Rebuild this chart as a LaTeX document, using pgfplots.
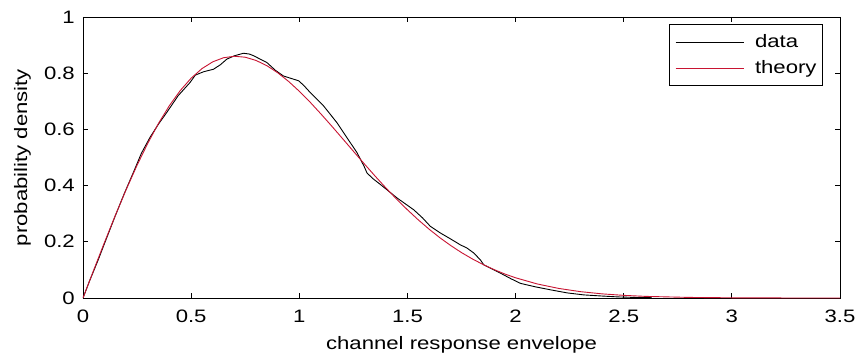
\documentclass[border=0pt]{standalone}
\usepackage{fontspec}
\setmainfont{Liberation Sans}[FakeStretch=1.23]
\usepackage{pgfplots}
\pgfplotsset{compat=1.18}
\definecolor{theoryred}{RGB}{200,20,50}
\begin{document}
\fontsize{18bp}{21bp}\selectfont
\begin{tikzpicture}
\begin{axis}[
  at={(0,0)}, anchor=south west,
  scale only axis,
  width=757bp, height=281bp,
  xmin=0, xmax=3.5, ymin=0, ymax=1,
  xtick={0,0.5,...,3.5},
  ytick={0,0.2,...,1},
  xticklabels={0,0.5,1,1.5,2,2.5,3,3.5},
  yticklabels={0,0.2,0.4,0.6,0.8,1},
  tick align=inside,
  major tick length=5bp,
  axis line style={line width=0.9bp},
  every tick/.style={black, line width=0.8bp},
  tick label style={font=\fontsize{18bp}{21bp}\selectfont},
  xticklabel style={yshift=-6bp},
  yticklabel style={xshift=-2bp},
  xlabel={channel response envelope},
  ylabel={probability density},
  label style={font=\fontsize{18bp}{21bp}\selectfont},
  xlabel style={yshift=-1bp},
  ylabel style={yshift=1bp},
  legend style={at={(1,1)}, anchor=north east, xshift=-17bp, yshift=-7bp,
    draw=black, line width=0.9bp, font=\fontsize{18bp}{21bp}\selectfont,
    inner xsep=6bp, inner ysep=8bp, row sep=6bp, column sep=11bp,
    nodes={inner xsep=0bp, inner ysep=2bp}},
  legend cell align=left,
  legend image code/.code={\draw[#1, line width=0.9bp] (-20bp,0bp) -- (48bp,0bp);},
]
\addplot[black, line width=0.9bp] coordinates {
(0,0) (0.03,0.06) (0.07,0.135) (0.1,0.195) (0.148,0.29) (0.19,0.37) (0.233,0.447)
(0.27,0.515) (0.31,0.572) (0.35,0.62) (0.387,0.66) (0.44,0.72) (0.495,0.767)
(0.519,0.793) (0.557,0.805) (0.603,0.814) (0.635,0.83) (0.665,0.85) (0.70,0.862)
(0.742,0.871) (0.77,0.868) (0.789,0.862) (0.85,0.838) (0.89,0.81) (0.927,0.79)
(0.96,0.782) (0.997,0.773) (1.02,0.757) (1.051,0.731) (1.113,0.683) (1.174,0.624)
(1.221,0.570) (1.267,0.517) (1.30,0.468) (1.313,0.445) (1.34,0.425) (1.375,0.404)
(1.452,0.356) (1.529,0.314) (1.57,0.285) (1.606,0.255) (1.653,0.231) (1.70,0.21)
(1.745,0.189) (1.775,0.178) (1.807,0.160) (1.838,0.135) (1.853,0.118) (1.90,0.10)
(1.931,0.088) (1.98,0.068) (2.023,0.052) (2.09,0.04) (2.162,0.029) (2.24,0.018)
(2.316,0.011) (2.40,0.007) (2.47,0.004) (2.55,0.002) (2.63,0.001)
};
\addlegendentry{data}
\addplot[theoryred, line width=0.9bp] coordinates {
(0,0) (0.05,0.1004) (0.1,0.1992) (0.15,0.2950) (0.2,0.3866) (0.25,0.4724)
(0.3,0.5513) (0.35,0.6226) (0.4,0.6852) (0.45,0.7386) (0.5,0.7823) (0.55,0.8163)
(0.6,0.8405) (0.65,0.8551) (0.7,0.8603) (0.75,0.8569) (0.8,0.8454) (0.85,0.8268)
(0.9,0.8017) (0.95,0.7711) (1.0,0.7358) (1.05,0.6970) (1.1,0.6551) (1.15,0.6118)
(1.2,0.5672) (1.25,0.5224) (1.3,0.4779) (1.35,0.4343) (1.4,0.3921) (1.45,0.3519)
(1.5,0.3139) (1.55,0.2782) (1.6,0.2450) (1.65,0.2145) (1.7,0.1868) (1.75,0.1616)
(1.8,0.1391) (1.85,0.1191) (1.9,0.1013) (1.95,0.0855) (2.0,0.0720) (2.1,0.0500)
(2.2,0.0340) (2.3,0.0226) (2.4,0.0147) (2.5,0.0094) (2.6,0.0058) (2.8,0.0021)
(3.0,0.0007) (3.2,0.0002) (3.5,0.0)
};
\addlegendentry{theory}
\end{axis}
\pgfresetboundingbox
\path (-83bp,-56bp) rectangle (773bp,298bp);
\end{tikzpicture}
\end{document}
